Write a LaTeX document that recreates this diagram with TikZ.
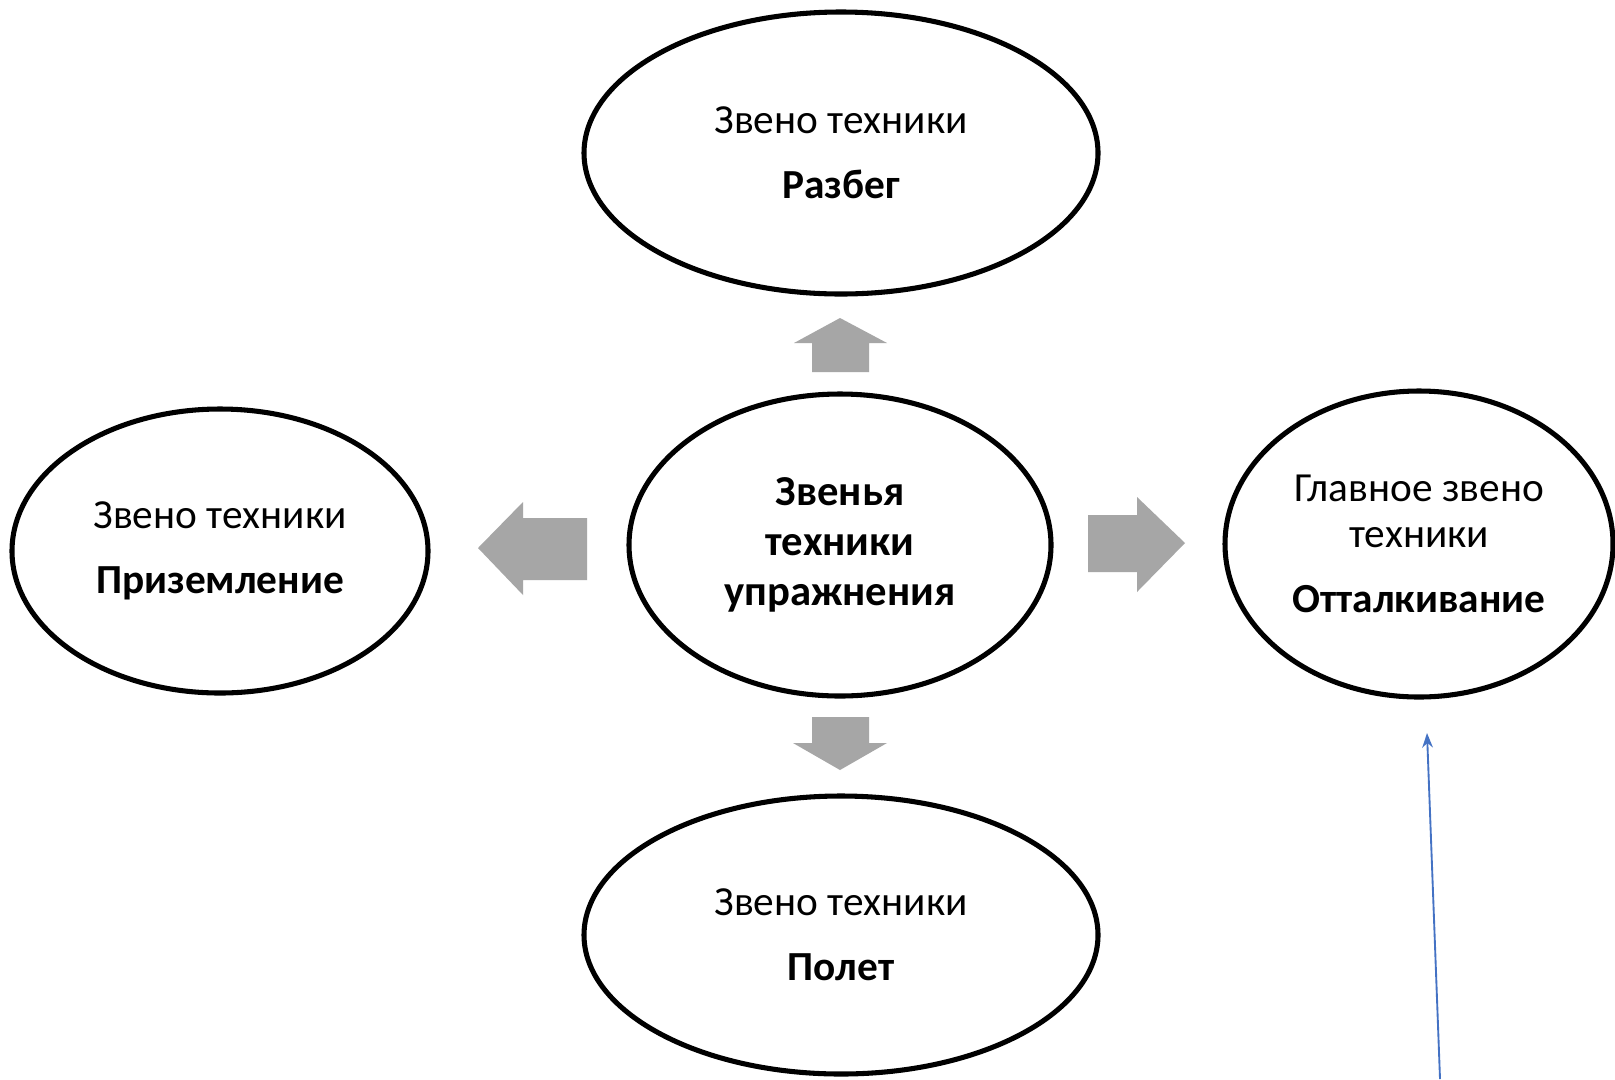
\documentclass[tikz,border=0pt]{standalone}
\usepackage{fontspec}
\setmainfont{Carlito}
\usetikzlibrary{shapes.geometric,arrows.meta}
\begin{document}
\begin{tikzpicture}[x=0.75pt,y=-0.75pt,
  ovaltext/.style={inner sep=0pt,align=center,font=\fontsize{31}{34.5}\selectfont},
  ovalline/.style={draw=black,line width=3.8pt,fill=white},
  blockarrow/.style={fill=arrowgray,draw=none},
  link/.style={draw=linkblue,line width=1.4pt,-{Stealth[length=11pt,width=8pt]}}]
\definecolor{arrowgray}{RGB}{166,166,166}
\definecolor{linkblue}{RGB}{68,114,196}
\useasboundingbox[fill=white] (0,0) rectangle (1615,1079);
% outlines
\draw[ovalline] (841,153) ellipse [x radius=192.75pt, y radius=105.75pt];
\draw[ovalline] (840,545) ellipse [x radius=158.25pt, y radius=113.25pt];
\draw[ovalline] (220,551) ellipse [x radius=156pt, y radius=106.5pt];
\draw[ovalline] (1419,544) ellipse [x radius=145.5pt, y radius=114.75pt];
\draw[ovalline] (841,935) ellipse [x radius=192.75pt, y radius=104.25pt];
% nodes
\node[ovaltext] (top) at (841,153)
  {Звено техники\\[14pt]\textbf{Разбег}};
\node[ovaltext,font=\fontsize{32}{37.5}\selectfont\bfseries] (center) at (840,545)
  {Звенья\\техники\\упражнения};
\node[ovaltext] (left) at (220,551)
  {Звено техники\\[14pt]\textbf{Приземление}};
\node[ovaltext] (right) at (1419,544)
  {Главное звено\\техники\\[14pt]\textbf{Отталкивание}};
\node[ovaltext] (bottom) at (841,935)
  {Звено техники\\[14pt]\textbf{Полет}};
% block arrows
\fill[blockarrow] (812,372) -- (812,343) -- (794,343) -- (840,318) -- (887,343) -- (869,343) -- (869,372) -- cycle;
\fill[blockarrow] (587,518) -- (523,518) -- (523,502) -- (478,548) -- (523,595) -- (523,580) -- (587,580) -- cycle;
\fill[blockarrow] (1088,515) -- (1137,515) -- (1137,497) -- (1185,543) -- (1137,592) -- (1137,572) -- (1088,572) -- cycle;
\fill[blockarrow] (812,717) -- (869,717) -- (869,743) -- (887,743) -- (840,770) -- (793,743) -- (812,743) -- cycle;
% blue connector
\coordinate (linkstart) at (1440,1079);
\coordinate (linkend) at (1427,733);
\draw[link] (linkstart) -- (linkend);
\end{tikzpicture}
\end{document}
